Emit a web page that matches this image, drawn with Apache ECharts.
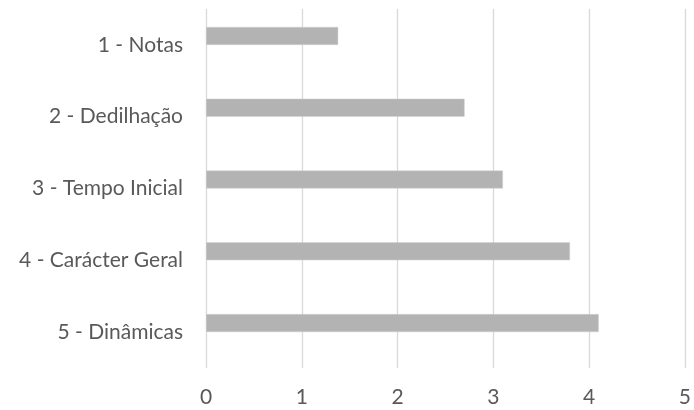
<!DOCTYPE html>
<html>
<head>
<meta charset="utf-8">
<script src="https://cdn.jsdelivr.net/npm/echarts@6/dist/echarts.min.js"></script>
<style>html,body{margin:0;padding:0;background:#fff}#c{width:694px;height:410px}</style>
</head>
<body>
<div id="c"></div>
<script>
const categories = ['1 - Notas', '2 - Dedilhação', '3 - Tempo Inicial', '4 - Carácter Geral', '5 - Dinâmicas'];
const values = [1.38, 2.7, 3.1, 3.8, 4.1];
const emptySeries = [null, null, null, null, null];
const xTicks = [0, 1, 2, 3, 4, 5];

const font = 'Lato, "Open Sans", sans-serif';
const chart = echarts.init(document.getElementById('c'), null, {renderer: 'canvas'});
chart.setOption({
  animation: false,
  grid: {left: 206, right: 4.3, top: 9, bottom: 42, containLabel: false},
  xAxis: {type: 'value', min: xTicks[0], max: xTicks[xTicks.length - 1], interval: 1,
     axisLine: {show: false}, axisTick: {show: false},
     axisLabel: {color: '#595959', fontSize: 21, fontFamily: font, margin: 19},
     splitLine: {show: true, lineStyle: {color: '#d9d9d9', width: 1.3}}},
  yAxis: {type: 'category', data: categories, inverse: true,
     axisLine: {show: false}, axisTick: {show: false},
     axisLabel: {color: '#595959', fontSize: 21, fontFamily: font, margin: 23, padding: [3, 0, 0, 0]},
     splitLine: {show: false}},
  series: [
    {type: 'bar', data: values, barWidth: 18, barGap: '0%', barCategoryGap: '50%',
     itemStyle: {color: '#b3b3b3', borderColor: '#d0d0d0', borderWidth: 0.5}},
    {type: 'bar', data: emptySeries, barWidth: 18, barGap: '0%', barCategoryGap: '50%'}
  ]
});
</script>
</body>
</html>
